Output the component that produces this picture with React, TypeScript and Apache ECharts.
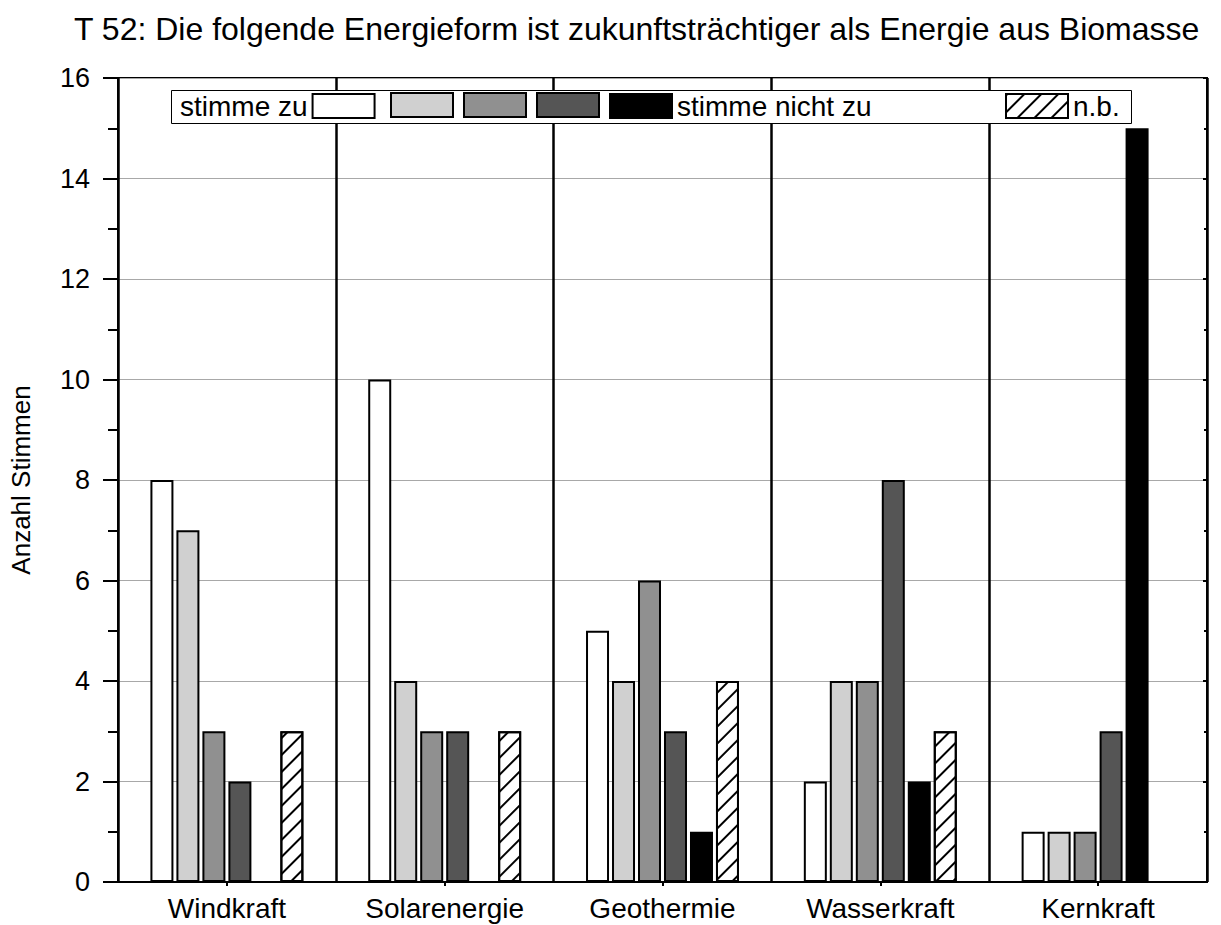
import React, { useEffect, useRef } from "react";
import * as echarts from "echarts";

const categories = ["Windkraft", "Solarenergie", "Geothermie", "Wasserkraft", "Kernkraft"];
const seriesNames = ["stimme zu", "s2", "s3", "s4", "stimme nicht zu", "n.b."];
const s1 = [8, 10, 5, 2, 1];
const s2 = [7, 4, 4, 4, 1];
const s3 = [3, 3, 6, 4, 1];
const s4 = [2, 3, 3, 8, 3];
const s5 = [0, 0, 1, 2, 15];
const s6 = [3, 3, 4, 3, 0];
const yTicks = [0, 2, 4, 6, 8, 10, 12, 14, 16];
const titleText = "T 52: Die folgende Energieform ist zukunftsträchtiger als Energie aus Biomasse";

const FONT = "'Liberation Sans', Arial, sans-serif";
const fills = ["#ffffff", "#d0d0d0", "#909090", "#555555", "#000000", "#ffffff"];

export default function App() {
  const ref = useRef<HTMLDivElement>(null);
  useEffect(() => {
    if (!ref.current) return;
    const chart = echarts.init(ref.current, null, { renderer: "svg" });
    const data = [s1, s2, s3, s4, s5, s6];
    const hatch = {
      symbol: "rect",
      symbolSize: 1,
      dashArrayX: [1, 0],
      dashArrayY: [1.3, 9.3],
      rotation: -Math.PI / 4,
      color: "#000",
      backgroundColor: "#fff",
    };
    const series = data.map((d, i) => ({
      name: seriesNames[i],
      type: "bar",
      data: d,
      barWidth: 23,
      barGap: "13%",
      itemStyle: {
        color: fills[i],
        borderColor: "#000",
        borderWidth: 2,
        ...(i === 5 ? { decal: hatch } : {}),
      },
      z: 2,
    }));
    const legendBase = {
      orient: "horizontal",
      top: 92,
      padding: 0,
      itemWidth: 62,
      itemHeight: 24,
      selectedMode: false,
      icon: "rect",
      z: 5,
      textStyle: { fontSize: 28, fontFamily: FONT, color: "#000" },
      itemStyle: { borderColor: "#000", borderWidth: 2 },
    };
    const legendItems: [string, number, string, boolean][] = [
      ["stimme zu", 180, "right", true],
      ["s2", 390, "left", false],
      ["s3", 463, "left", false],
      ["s4", 536, "left", false],
      ["stimme nicht zu", 609, "left", true],
      ["n.b.", 1005, "left", true],
    ];
    const legend = legendItems.map(([name, left, align, showText]) => ({
      ...legendBase,
      left,
      align,
      data: [name],
      formatter: showText ? (n: string) => n : () => "",
    }));
    chart.setOption({
      animation: false,
      backgroundColor: "#fff",
      title: {
        text: titleText,
        left: 74,
        top: 13,
        padding: 0,
        textStyle: { fontSize: 32, fontWeight: "normal", fontFamily: FONT, color: "#000" },
      },
      legend,
      grid: {
        left: 117,
        right: 14,
        top: 78,
        bottom: 43,
        show: true,
        borderColor: "#000",
        borderWidth: 2,
        backgroundColor: "transparent",
      },
      graphic: [
        {
          type: "rect",
          z: 3,
          shape: { x: 171.5, y: 90.5, width: 960, height: 33 },
          style: { fill: "#fff", stroke: "#000", lineWidth: 1 },
        },
      ],
      xAxis: {
        type: "category",
        data: categories,
        axisLine: { show: true, lineStyle: { color: "#000", width: 2 } },
        axisTick: { show: true, alignWithLabel: true, length: 4, lineStyle: { color: "#000", width: 2 } },
        splitLine: { show: true, lineStyle: { color: "#000", width: 2.5 } },
        axisLabel: { fontSize: 28, fontFamily: FONT, color: "#000", margin: 12 },
      },
      yAxis: [
        {
          type: "value",
          min: yTicks[0],
          max: yTicks[yTicks.length - 1],
          interval: 2,
          name: "Anzahl Stimmen",
          nameLocation: "middle",
          nameRotate: 90,
          nameGap: 84,
          nameTextStyle: { fontSize: 26, fontFamily: FONT, color: "#000" },
          axisLine: { show: true, lineStyle: { color: "#000", width: 2 } },
          axisTick: { show: true, inside: false, length: 15, lineStyle: { color: "#000", width: 2 } },
          minorTick: { show: true, splitNumber: 2, length: 10, lineStyle: { color: "#000", width: 2 } },
          splitLine: { show: true, lineStyle: { color: "#a8a8a8", width: 1 } },
          axisLabel: { fontSize: 27, fontFamily: FONT, color: "#000", margin: 28 },
        },
        {
          type: "value",
          position: "right",
          min: yTicks[0],
          max: yTicks[yTicks.length - 1],
          interval: 2,
          axisLine: { show: true, lineStyle: { color: "#000", width: 2 } },
          axisTick: { show: true, inside: true, length: 4, lineStyle: { color: "#000", width: 2 } },
          minorTick: { show: true, splitNumber: 2, length: 3, lineStyle: { color: "#000", width: 2 } },
          splitLine: { show: false },
          axisLabel: { show: false },
        },
      ],
      series,
    });
    return () => chart.dispose();
  }, []);
  return <div ref={ref} style={{ width: 1221, height: 925, position: "absolute", left: 0, top: 0 }} />;
}
